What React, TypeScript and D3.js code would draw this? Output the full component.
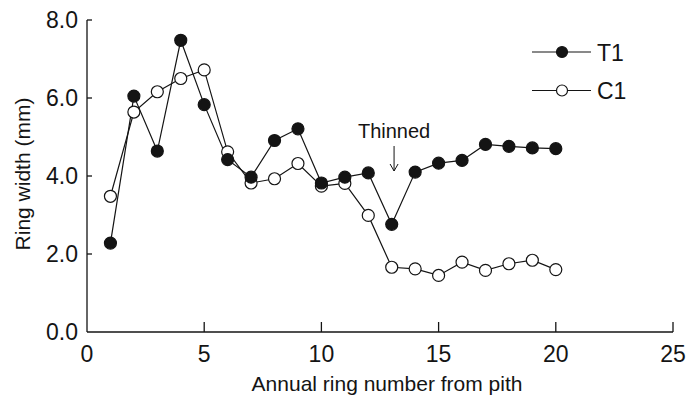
import React, { useRef, useEffect } from "react";
import * as d3 from "d3";

const rings = [1, 2, 3, 4, 5, 6, 7, 8, 9, 10, 11, 12, 13, 14, 15, 16, 17, 18, 19, 20];
const t1Width = [2.28, 6.05, 4.64, 7.48, 5.83, 4.42, 3.97, 4.91, 5.21, 3.82, 3.97, 4.08, 2.76, 4.1, 4.33, 4.4, 4.81, 4.76, 4.72, 4.7];
const c1Width = [3.48, 5.64, 6.16, 6.5, 6.72, 4.62, 3.82, 3.93, 4.32, 3.74, 3.81, 2.99, 1.66, 1.62, 1.45, 1.79, 1.58, 1.75, 1.84, 1.6];
const xTicks = [0, 5, 10, 15, 20, 25];
const yTicks = [0, 2, 4, 6, 8];
const seriesNames = ["T1", "C1"];

const W = 699;
const H = 397;
const INK = "#141414";
const FONT = "'Liberation Sans', Arial, Helvetica, sans-serif";

const App = () => {
    const svgRef = useRef<SVGSVGElement>(null);

    function draw() {
        const svg = d3.select(svgRef.current);
        svg.selectAll("*").remove();

        const x = d3.scaleLinear().domain([0, 25]).range([87, 673]);
        const y = d3.scaleLinear().domain([0, 8]).range([332, 20]);

        // axes
        svg.append("line")
            .attr("x1", x(0)).attr("x2", x(0))
            .attr("y1", y(0)).attr("y2", y(8))
            .attr("stroke", INK).attr("stroke-width", 1.3);
        svg.append("line")
            .attr("x1", x(0)).attr("x2", x(25))
            .attr("y1", y(0)).attr("y2", y(0))
            .attr("stroke", INK).attr("stroke-width", 1.3);

        svg.selectAll(".ytick")
            .data(yTicks.filter((d) => d > 0))
            .enter()
            .append("line")
            .attr("x1", x(0)).attr("x2", x(0) + 5)
            .attr("y1", (d) => y(d)).attr("y2", (d) => y(d))
            .attr("stroke", INK).attr("stroke-width", 1.3);

        svg.selectAll(".xtick")
            .data(xTicks.filter((d) => d > 0))
            .enter()
            .append("line")
            .attr("x1", (d) => x(d)).attr("x2", (d) => x(d))
            .attr("y1", y(0)).attr("y2", y(0) - 10)
            .attr("stroke", INK).attr("stroke-width", 1.3);

        svg.selectAll(".ylab")
            .data(yTicks)
            .enter()
            .append("text")
            .attr("x", x(0) - 9)
            .attr("y", (d) => y(d) + 8)
            .attr("text-anchor", "end")
            .style("font-family", FONT)
            .style("font-size", "23px")
            .style("fill", INK)
            .text((d) => d.toFixed(1));

        svg.selectAll(".xlab")
            .data(xTicks)
            .enter()
            .append("text")
            .attr("x", (d) => x(d))
            .attr("y", 362)
            .attr("text-anchor", "middle")
            .style("font-family", FONT)
            .style("font-size", "23px")
            .style("fill", INK)
            .text((d) => d);

        svg.append("text")
            .attr("x", 387)
            .attr("y", 391)
            .attr("text-anchor", "middle")
            .style("font-family", FONT)
            .style("font-size", "21px")
            .style("fill", INK)
            .text("Annual ring number from pith");

        svg.append("text")
            .attr("transform", "translate(30, 174) rotate(-90)")
            .attr("text-anchor", "middle")
            .style("font-family", FONT)
            .style("font-size", "21px")
            .style("fill", INK)
            .text("Ring width (mm)");

        const line = d3
            .line<number>()
            .x((d, i) => x(rings[i]))
            .y((d) => y(d));

        const series = [
            { name: seriesNames[0], values: t1Width, fill: INK },
            { name: seriesNames[1], values: c1Width, fill: "white" },
        ];

        // C1 first so the filled T1 markers sit on top where they meet
        [series[1], series[0]].forEach((s) => {
            svg.append("path")
                .attr("d", line(s.values))
                .attr("fill", "none")
                .attr("stroke", INK)
                .attr("stroke-width", 1.2);
        });
        [series[1], series[0]].forEach((s) => {
            svg.selectAll(null)
                .data(s.values)
                .enter()
                .append("circle")
                .attr("cx", (d, i) => x(rings[i]))
                .attr("cy", (d) => y(d))
                .attr("r", 6)
                .attr("fill", s.fill)
                .attr("stroke", INK)
                .attr("stroke-width", 1.2);
        });

        // legend
        series.forEach((s, i) => {
            const ly = 52 + i * 38.5;
            svg.append("line")
                .attr("x1", 532).attr("x2", 591)
                .attr("y1", ly).attr("y2", ly)
                .attr("stroke", INK).attr("stroke-width", 1.2);
            svg.append("circle")
                .attr("cx", 562).attr("cy", ly)
                .attr("r", 5.5)
                .attr("fill", s.fill)
                .attr("stroke", INK)
                .attr("stroke-width", 1.2);
            svg.append("text")
                .attr("x", 597)
                .attr("y", ly + 8.5)
                .style("font-family", FONT)
                .style("font-size", "23px")
                .style("fill", INK)
                .text(s.name);
        });

        // thinning annotation
        const ax = x(13.1);
        svg.append("text")
            .attr("x", ax)
            .attr("y", 138)
            .attr("text-anchor", "middle")
            .style("font-family", FONT)
            .style("font-size", "20px")
            .style("fill", INK)
            .text("Thinned");
        svg.append("line")
            .attr("x1", ax).attr("x2", ax)
            .attr("y1", 146).attr("y2", 171)
            .attr("stroke", INK).attr("stroke-width", 1);
        svg.append("path")
            .attr("d", `M${ax - 4},${164} L${ax},${171} L${ax + 4},${164}`)
            .attr("fill", "none")
            .attr("stroke", INK)
            .attr("stroke-width", 1);
    }

    useEffect(draw, []);

    return (
        <svg
            ref={svgRef}
            width={W}
            height={H}
            style={{ position: "absolute", left: 0, top: 0, background: "white" }}
        />
    );
};

export default App;
